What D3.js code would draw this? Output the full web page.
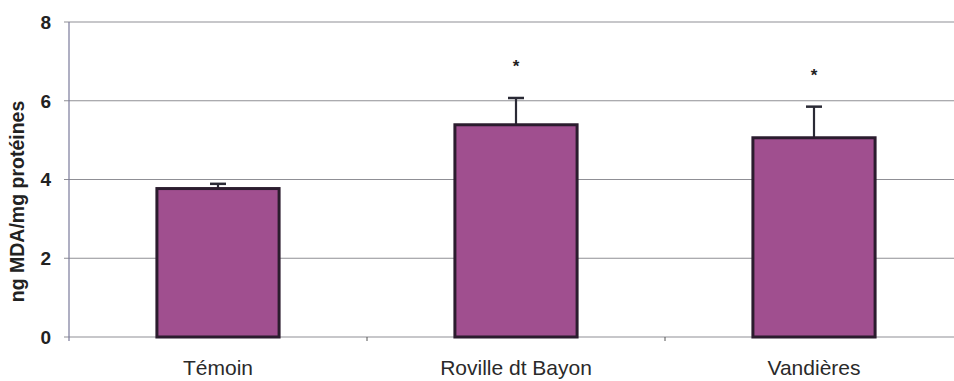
<!DOCTYPE html>
<html>
<head>
<meta charset="utf-8">
<script src="https://cdn.jsdelivr.net/npm/d3@7"></script>
<style>
  body { margin: 0; background: #fff; }
  svg { display: block; font-family: "Liberation Sans", Arial, sans-serif; }
</style>
</head>
<body>
<svg width="954" height="381"></svg>
<script>
// data
const categories = ["Témoin", "Roville dt Bayon", "Vandières"];
const means = [3.77, 5.39, 5.06];
const errors = [0.12, 0.68, 0.79];
const signif = [false, true, true];
const yTicks = [0, 2, 4, 6, 8];

const width = 954, height = 381;
const margin = { left: 69, right: -9, top: 22, bottom: 44 };

const svg = d3.select("svg");

const x = d3.scaleBand()
  .domain(categories)
  .range([margin.left, width - margin.right])
  .paddingInner(0.59)
  .paddingOuter(0.295);

const y = d3.scaleLinear()
  .domain([0, 8])
  .range([height - margin.bottom, margin.top]);

// gridlines
svg.append("g")
  .selectAll("line")
  .data(yTicks)
  .join("line")
    .attr("x1", margin.left - 5)
    .attr("x2", width)
    .attr("y1", d => y(d))
    .attr("y2", d => y(d))
    .attr("stroke", "#8f8f95")
    .attr("stroke-width", 1.2);

// y axis line
svg.append("line")
  .attr("x1", margin.left).attr("x2", margin.left)
  .attr("y1", y(8)).attr("y2", y(0) + 4)
  .attr("stroke", "#7a7a9a")
  .attr("stroke-width", 1.2);

// tick labels
svg.append("g")
  .selectAll("text")
  .data(yTicks)
  .join("text")
    .attr("x", 51)
    .attr("y", d => y(d))
    .attr("dy", "0.36em")
    .attr("text-anchor", "end")
    .attr("font-size", 19)
    .attr("font-weight", "bold")
    .attr("fill", "#222")
    .text(d => d);

// small category separators on the base line
const seps = categories.slice(1).map(c => x(c) - x.step() * x.paddingInner() / 2);
svg.append("g")
  .selectAll("line")
  .data(seps)
  .join("line")
    .attr("x1", d => d).attr("x2", d => d)
    .attr("y1", y(0)).attr("y2", y(0) + 4)
    .attr("stroke", "#555")
    .attr("stroke-width", 1);

// y title
svg.append("text")
  .attr("transform", `translate(24,${(y(0) + y(8)) / 2 + 22}) rotate(-90)`)
  .attr("text-anchor", "middle")
  .attr("font-size", 19.5)
  .attr("font-weight", "bold")
  .attr("fill", "#222")
  .text("ng MDA/mg protéines");

// error bars (drawn under the bar border)
const eb = svg.append("g")
  .selectAll("g")
  .data(categories)
  .join("g");
eb.append("line")
  .attr("x1", d => x(d) + x.bandwidth() / 2)
  .attr("x2", d => x(d) + x.bandwidth() / 2)
  .attr("y1", (d, i) => y(means[i]))
  .attr("y2", (d, i) => y(means[i] + errors[i]))
  .attr("stroke", "#2a2a35")
  .attr("stroke-width", 2.2);
eb.append("line")
  .attr("x1", d => x(d) + x.bandwidth() / 2 - 8)
  .attr("x2", d => x(d) + x.bandwidth() / 2 + 8)
  .attr("y1", (d, i) => y(means[i] + errors[i]))
  .attr("y2", (d, i) => y(means[i] + errors[i]))
  .attr("stroke", "#2a2a35")
  .attr("stroke-width", 2.5);

// bars
svg.append("g")
  .selectAll("rect")
  .data(categories)
  .join("rect")
    .attr("x", d => x(d))
    .attr("y", (d, i) => y(means[i]))
    .attr("width", x.bandwidth())
    .attr("height", (d, i) => y(0) - y(means[i]))
    .attr("fill", "#a04f8f")
    .attr("stroke", "#2b1c2e")
    .attr("stroke-width", 3);

// asterisks
svg.append("g")
  .selectAll("text")
  .data(categories.filter((d, i) => signif[i]))
  .join("text")
    .attr("x", d => x(d) + x.bandwidth() / 2)
    .attr("y", d => y(means[categories.indexOf(d)] + errors[categories.indexOf(d)]) - 26)
    .attr("text-anchor", "middle")
    .attr("font-size", 17)
    .attr("font-weight", "bold")
    .attr("fill", "#222")
    .text("*");

// category labels
svg.append("g")
  .selectAll("text")
  .data(categories)
  .join("text")
    .attr("x", d => x(d) + x.bandwidth() / 2)
    .attr("y", 375)
    .attr("text-anchor", "middle")
    .attr("font-size", 21)
    .attr("fill", "#2a2a2a")
    .text(d => d);
</script>
</body>
</html>
